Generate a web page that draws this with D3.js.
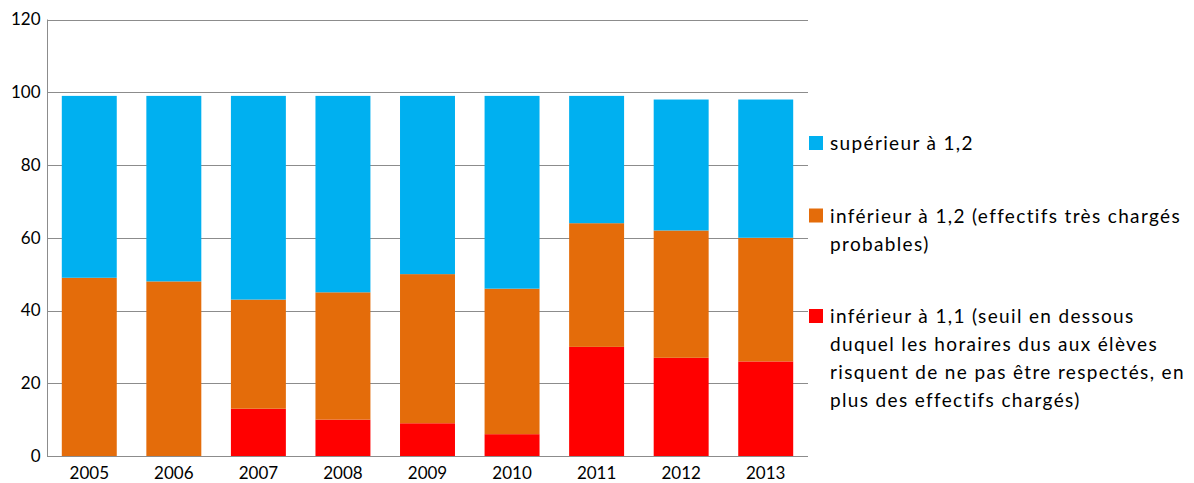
<!DOCTYPE html>
<html>
<head>
<meta charset="utf-8">
<script src="https://cdn.jsdelivr.net/npm/d3@7"></script>
<style>
  html, body { margin: 0; padding: 0; background: #ffffff; }
  svg { display: block; }
</style>
</head>
<body>
<svg id="chart" width="1194" height="483"></svg>
<script>
// ---- data ----
const years = ["2005","2006","2007","2008","2009","2010","2011","2012","2013"];
const inf11 = [0, 0, 13, 10, 9, 6, 30, 27, 26];          // inférieur à 1,1
const inf12 = [49, 48, 30, 35, 41, 40, 34, 35, 34];      // inférieur à 1,2
const sup12 = [50, 51, 56, 54, 49, 53, 35, 36, 38];      // supérieur à 1,2
const yTicks = [0, 20, 40, 60, 80, 100, 120];
const seriesNames = ["inf11", "inf12", "sup12"];
const seriesColors = { inf11: "#FF0000", inf12: "#E46C0A", sup12: "#00B0F0" };
const legendItems = [
  { key: "sup12", lines: ["supérieur à 1,2"] },
  { key: "inf12", lines: ["inférieur à 1,2 (effectifs très chargés", "probables)"] },
  { key: "inf11", lines: ["inférieur à 1,1 (seuil en dessous", "duquel les horaires dus aux élèves", "risquent de ne pas être respectés, en", "plus des effectifs chargés)"] }
];

const svg = d3.select("#chart");
const plot = { left: 47, right: 808, top: 19.5, bottom: 456 };
const font = "Lato, 'Open Sans', sans-serif";

// ---- scales ----
const x = d3.scaleBand().domain(years).range([plot.left, plot.right]).paddingInner(0.35).paddingOuter(0.175);
const y = d3.scaleLinear().domain([0, 120]).range([plot.bottom, plot.top]);

// ---- gridlines ----
svg.append("g").selectAll("line").data(yTicks).join("line")
  .attr("x1", plot.left).attr("x2", plot.right)
  .attr("y1", d => Math.round(y(d)) + 0.5).attr("y2", d => Math.round(y(d)) + 0.5)
  .attr("stroke", "#8c8c8c").attr("stroke-width", 1.2);

// ---- stacked bars ----
const table = years.map((yr, i) => ({ year: yr, inf11: inf11[i], inf12: inf12[i], sup12: sup12[i] }));
const stack = d3.stack().keys(seriesNames)(table);
svg.append("g").selectAll("g").data(stack).join("g")
  .attr("fill", d => seriesColors[d.key])
  .selectAll("rect").data(d => d).join("rect")
  .attr("x", d => x(d.data.year))
  .attr("width", x.bandwidth())
  .attr("y", d => y(d[1]))
  .attr("height", d => y(d[0]) - y(d[1]));

// ---- axes ----
const yAxis = d3.axisLeft(y).tickValues(yTicks).tickSize(0).tickPadding(7);
const gy = svg.append("g").attr("transform", `translate(${plot.left + 0.5},0)`).call(yAxis);
gy.select(".domain").attr("stroke", "#8c8c8c").attr("d", `M0,${plot.top}V${plot.bottom}`);
gy.selectAll(".tick text").style("font-family", font).style("font-size", "17px").attr("fill", "#000");

const xAxis = d3.axisBottom(x).tickSize(0).tickPadding(11);
const gx = svg.append("g").attr("transform", `translate(0,${plot.bottom})`).call(xAxis);
gx.select(".domain").remove();
gx.selectAll(".tick text").style("font-family", font).style("font-size", "17px").attr("fill", "#000");

// ---- legend ----
const lg = svg.append("g");
const lineH = 28;
let baseY = 150;
legendItems.forEach(item => {
  lg.append("rect").attr("x", 809).attr("y", baseY - 14).attr("width", 14).attr("height", 14)
    .attr("fill", seriesColors[item.key]);
  const t = lg.append("text").attr("x", 830).attr("y", baseY)
    .style("font-family", font).style("font-size", "19px").style("letter-spacing", "1.35px").attr("fill", "#000");
  item.lines.forEach((ln, j) => {
    t.append("tspan").attr("x", 830).attr("y", baseY + j * lineH).text(ln);
  });
  baseY += (item.lines.length - 1) * lineH + 72.5;
});
</script>
</body>
</html>
